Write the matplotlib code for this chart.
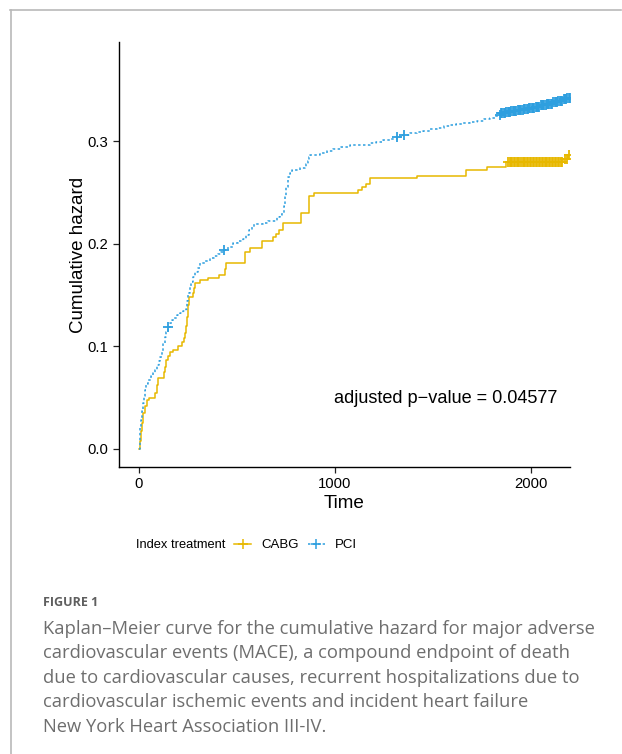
import numpy as np
import matplotlib.pyplot as plt
from matplotlib.lines import Line2D

# cumulative hazard step points (time, H)
cabg_t = [0, 5, 10, 15, 20, 30, 40, 51, 82, 90, 97, 128, 135, 138, 150, 158, 175, 199,
          219, 228, 235, 240, 245, 250, 255, 275, 280, 286, 311, 352, 408, 440, 446,
          541, 566, 628, 684, 700, 714, 735, 827, 867, 893, 1117, 1138, 1158, 1179,
          1418, 1668, 1776, 1872, 2163, 2189, 2199]
cabg_h = [0.0, 0.008, 0.018, 0.025, 0.035, 0.042, 0.048, 0.050, 0.055, 0.062, 0.069,
          0.075, 0.080, 0.087, 0.091, 0.095, 0.097, 0.100, 0.104, 0.108, 0.113, 0.120,
          0.129, 0.140, 0.148, 0.152, 0.157, 0.162, 0.165, 0.167, 0.170, 0.176, 0.181,
          0.192, 0.196, 0.203, 0.207, 0.210, 0.214, 0.220, 0.230, 0.247, 0.250, 0.253,
          0.256, 0.258, 0.264, 0.266, 0.272, 0.275, 0.280, 0.283, 0.287, 0.287]
cabg_cens = [1885, 1892, 1898, 1905, 1912, 1920, 1928, 1935, 1942, 1950, 1958, 1965,
             1972, 1980, 1988, 1995, 2003, 2010, 2018, 2025, 2032, 2040, 2048, 2055,
             2062, 2070, 2078, 2085, 2092, 2100, 2108, 2115, 2122, 2130, 2138, 2145,
             2152, 2160, 2175, 2186, 2195]

pci_t = [0, 3, 6, 10, 15, 20, 25, 31, 38, 46, 60, 70, 82, 92, 100, 107, 115, 125, 133,
         140, 148, 160, 170, 179, 195, 209, 225, 240, 245, 250, 258, 266, 275, 286, 300,
         311, 335, 362, 385, 403, 420, 434, 455, 480, 505, 531, 545, 561, 575, 587, 633,
         660, 704, 718, 730, 738, 745, 752, 760, 770, 781, 821, 847, 855, 862, 868, 872,
         923, 960, 990, 1030, 1077, 1179, 1210, 1245, 1280, 1316, 1350, 1383, 1420, 1449,
         1485, 1520, 1555, 1587, 1620, 1653, 1690, 1724, 1760, 1791, 1815, 1832, 1845,
         1870, 1900, 1930, 1960, 1990, 2020, 2050, 2080, 2110, 2140, 2165, 2185, 2199]
pci_h = [0.0, 0.010, 0.020, 0.028, 0.037, 0.045, 0.052, 0.058, 0.063, 0.067, 0.071,
         0.074, 0.077, 0.082, 0.086, 0.090, 0.096, 0.103, 0.109, 0.114, 0.119, 0.123,
         0.126, 0.128, 0.131, 0.133, 0.135, 0.137, 0.144, 0.152, 0.158, 0.163, 0.168,
         0.173, 0.177, 0.181, 0.183, 0.186, 0.188, 0.190, 0.192, 0.194, 0.197, 0.201,
         0.203, 0.205, 0.209, 0.214, 0.217, 0.219, 0.220, 0.222, 0.226, 0.228, 0.230,
         0.237, 0.246, 0.256, 0.265, 0.269, 0.272, 0.274, 0.275, 0.278, 0.281, 0.285,
         0.287, 0.289, 0.291, 0.293, 0.295, 0.297, 0.298, 0.299, 0.301, 0.302, 0.304,
         0.306, 0.308, 0.309, 0.310, 0.312, 0.313, 0.315, 0.316, 0.317, 0.318, 0.319,
         0.320, 0.322, 0.323, 0.325, 0.326, 0.328, 0.329, 0.330, 0.331, 0.332, 0.333,
         0.334, 0.336, 0.337, 0.338, 0.339, 0.341, 0.342, 0.344]
pci_cens = [150, 434, 1316, 1352, 1842, 1848, 1855, 1861, 1868, 1874, 1881, 1887, 1894,
            1900, 1907, 1913, 1920, 1926, 1933, 1939, 1946, 1952, 1959, 1965, 1972, 1978,
            1985, 1991, 1998, 2004, 2011, 2017, 2024, 2030, 2037, 2043, 2050, 2056, 2063,
            2069, 2076, 2082, 2089, 2095, 2102, 2108, 2115, 2121, 2128, 2134, 2141, 2147,
            2154, 2160, 2167, 2173, 2180, 2186, 2193, 2198]

groups = ['CABG', 'PCI']
colors = ['#E7B800', '#2E9FDF']
styles = ['-', (0, (1.6, 1.6))]

caption = [
    'Kaplan\u2013Meier curve for the cumulative hazard for major adverse',
    'cardiovascular events (MACE), a compound endpoint of death',
    'due to cardiovascular causes, recurrent hospitalizations due to',
    'cardiovascular ischemic events and incident heart failure',
    'New York Heart Association III-IV.',
]

plt.rcParams['font.family'] = ['Liberation Sans', 'DejaVu Sans']

fig = plt.figure(figsize=(6.22, 7.54), dpi=100)
ax = fig.add_axes([119 / 622, 1 - 467 / 754, 451 / 622, 425 / 754])


def censor_y(t, h, cens):
    t = np.asarray(t)
    h = np.asarray(h)
    idx = np.searchsorted(t, cens, side='right') - 1
    return h[idx]


data = [(cabg_t, cabg_h, cabg_cens), (pci_t, pci_h, pci_cens)]
for (t, h, c), col, ls in zip(data, colors, styles):
    ax.step(t, h, where='post', color=col, lw=1.1, ls=ls)
    ax.plot(c, censor_y(t, h, c), ls='none', marker='+', ms=7.5, mew=1.3, color=col)

ax.set_xlim(-102, 2200)
ax.set_ylim(-0.0176, 0.397)
ax.set_xticks([0, 1000, 2000])
ax.set_yticks([0.0, 0.1, 0.2, 0.3])
ax.set_yticklabels(['0.0', '0.1', '0.2', '0.3'])
for s in ['top', 'right']:
    ax.spines[s].set_visible(False)
for s in ['left', 'bottom']:
    ax.spines[s].set_linewidth(1.0)
ax.tick_params(length=4, width=0.9, labelsize=10.7, colors='#222222', labelcolor='black')
ax.set_xlabel('Time', fontsize=13.6, labelpad=2.5)
ax.set_ylabel('Cumulative hazard', fontsize=13.5, labelpad=0.5)

ax.text(995, 0.0497, 'adjusted p\u2212value = 0.04577', fontsize=13.1, ha='left', va='center')

# legend at the bottom
handles = [Line2D([], [], color=col, ls=ls, lw=1.1, marker='+', ms=6.5, mew=1.1)
           for col, ls in zip(colors, styles)]
fig.text(225 / 622, 1 - 545 / 754, 'Index treatment', fontsize=9.3, ha='right', va='center')
fig.legend(handles, groups, loc='center left', bbox_to_anchor=(234 / 622, 1 - 545 / 754),
           ncol=2, frameon=False, fontsize=9.5, handlelength=1.3, handletextpad=0.75,
           columnspacing=0.7, borderpad=0, borderaxespad=0)

# page frame lines
fig.add_artist(Line2D([10 / 622, 621 / 622], [1 - 10 / 754, 1 - 10 / 754],
                      color='#b9b9b9', lw=1.2, transform=fig.transFigure))
fig.add_artist(Line2D([11 / 622, 11 / 622], [1 - 10 / 754, 0],
                      color='#b9b9b9', lw=1.2, transform=fig.transFigure))

# caption
fig.text(43 / 622, 1 - 603 / 754, 'FIGURE 1', fontsize=9, fontweight='bold',
         color='#5f5f5f', family='Open Sans', va='center')
for i, line in enumerate(caption):
    fig.text(43 / 622, 1 - (629 + 24.4 * i) / 754, line, fontsize=13.2,
             color='#6e6e6e', family='Open Sans', va='center')

fig.savefig('out.png', dpi=100)
